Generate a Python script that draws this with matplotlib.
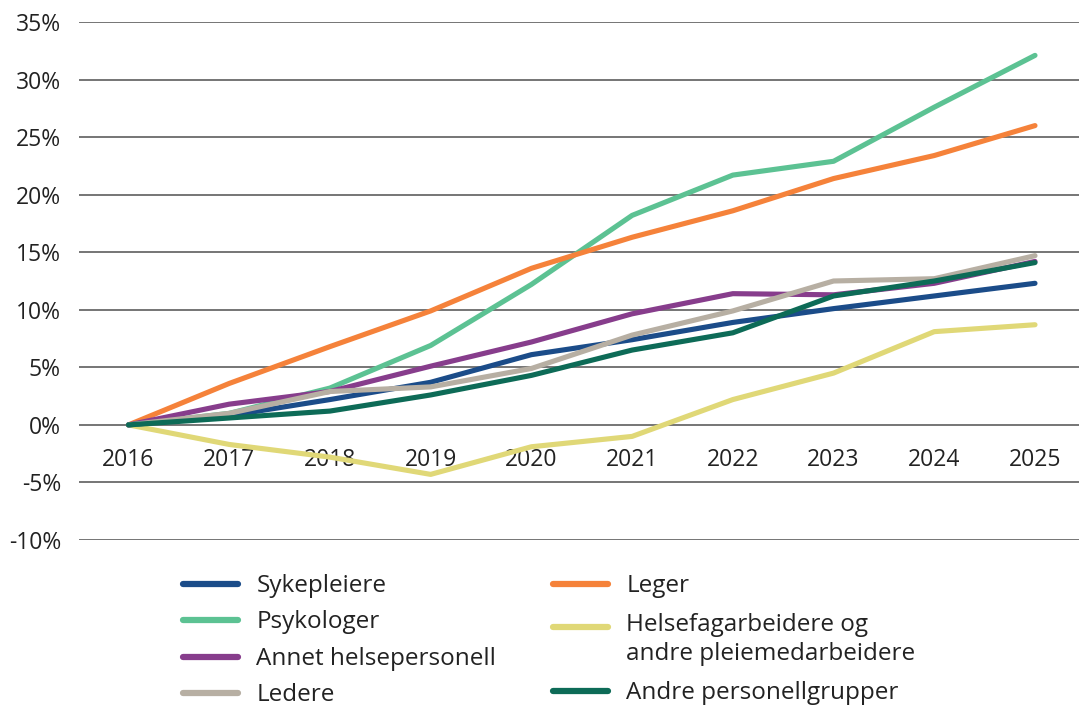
import numpy as np
import matplotlib
matplotlib.use('Agg')
from matplotlib import pyplot as plt
from matplotlib.ticker import FuncFormatter
from matplotlib.legend_handler import HandlerLine2D

plt.rcParams['font.family'] = ['Open Sans', 'DejaVu Sans']

years = [2016, 2017, 2018, 2019, 2020, 2021, 2022, 2023, 2024, 2025]

# prosentvis endring fra 2016
sykepleiere = [0, 0.8, 2.2, 3.7, 6.1, 7.4, 8.9, 10.1, 11.2, 12.3]
leger = [0, 3.6, 6.8, 9.9, 13.6, 16.3, 18.6, 21.4, 23.4, 26.0]
psykologer = [0, 1.0, 3.2, 6.9, 12.2, 18.2, 21.7, 22.9, 27.6, 32.1]
helsefag = [0, -1.7, -2.8, -4.3, -1.9, -1.0, 2.2, 4.5, 8.1, 8.7]
annet = [0, 1.8, 2.9, 5.1, 7.2, 9.65, 11.4, 11.3, 12.3, 14.2]
ledere = [0, 1.0, 2.9, 3.3, 4.9, 7.8, 9.9, 12.5, 12.7, 14.7]
andre = [0, 0.6, 1.2, 2.6, 4.3, 6.5, 8.0, 11.2, 12.5, 14.1]

left_col = [
    ('Sykepleiere', sykepleiere, '#1b4c89'),
    ('Psykologer', psykologer, '#5cc293'),
    ('Annet helsepersonell', annet, '#873d8c'),
    ('Ledere', ledere, '#b7afa3'),
]
right_col = [
    ('Leger', leger, '#f5823a'),
    ('Helsefagarbeidere og\nandre pleiemedarbeidere', helsefag, '#e0d877'),
    ('Andre personellgrupper', andre, '#0d6b57'),
]
# drawing order (back to front)
draw_order = ['Helsefagarbeidere og\nandre pleiemedarbeidere', 'Psykologer', 'Leger',
              'Annet helsepersonell', 'Sykepleiere', 'Ledere', 'Andre personellgrupper']

FS = 17.5
LINESP = 1.28


class ShiftedLine(HandlerLine2D):
    # put the handle next to the first line of a two-line label
    def __init__(self, shift, **kw):
        HandlerLine2D.__init__(self, **kw)
        self.shift = shift

    def create_artists(self, legend, orig_handle, xdescent, ydescent, width,
                       height, fontsize, trans):
        return HandlerLine2D.create_artists(self, legend, orig_handle, xdescent,
                                            ydescent - self.shift, width, height,
                                            fontsize, trans)


fig = plt.figure(figsize=(10.79, 7.09), dpi=100)
ax = fig.add_axes([79/1079, 1-540/709, 1-79/1079, (540-22)/709])

lines = {}
for name, vals, col in left_col + right_col:
    ln, = ax.plot(years, vals, color=col, lw=3.7, solid_capstyle='round',
                  solid_joinstyle='round', label=name,
                  zorder=3 + draw_order.index(name))
    lines[name] = ln

ax.set_ylim(-10, 35)
ax.set_yticks(np.arange(-10, 36, 5))
ax.yaxis.set_major_formatter(FuncFormatter(lambda v, p: '%d%%' % v))
step = (1035 - 128.5) / 9
ax.set_xlim(2016 - (128.5 - 79) / step, 2025 + (1079 - 1035) / step)
ax.set_xticks(years)

ax.grid(axis='y', color='#5e5e5e', lw=1.2)
ax.set_axisbelow(True)
for s in ax.spines.values():
    s.set_visible(False)
ax.spines['bottom'].set_position(('data', 0))
ax.tick_params(axis='both', length=0, labelsize=16.5, colors='#222222')
ax.tick_params(axis='y', pad=13)
ax.tick_params(axis='x', pad=17)

legkw = dict(frameon=False, loc='upper left', bbox_transform=fig.transFigure,
             fontsize=FS, handlelength=2.26, handletextpad=0.76, handleheight=0.55,
             borderpad=0, borderaxespad=0)

leg1 = fig.legend([lines[n] for n, _, _ in left_col], [n for n, _, _ in left_col],
                  bbox_to_anchor=(183/1079, 1-574/709), labelspacing=0.51, **legkw)
two_line = lines['Helsefagarbeidere og\nandre pleiemedarbeidere']
leg2 = fig.legend([lines[n] for n, _, _ in right_col], [n for n, _, _ in right_col],
                  bbox_to_anchor=(553/1079, 1-574/709), labelspacing=0.62,
                  handler_map={two_line: ShiftedLine(19.7)}, **legkw)
for leg in (leg1, leg2):
    for t in leg.get_texts():
        t.set_color('#222222')
        t.set_linespacing(LINESP)
    for h in leg.legend_handles:
        h.set_linewidth(4.5)

fig.savefig('out.png', dpi=100)
